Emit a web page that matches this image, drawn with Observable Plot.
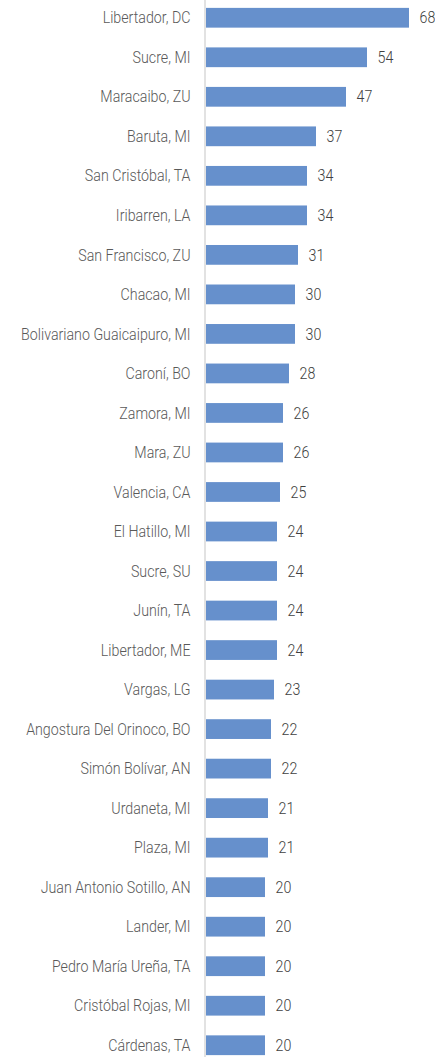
<!DOCTYPE html>
<html>
<head>
<meta charset="utf-8">
<script src="https://cdn.jsdelivr.net/npm/d3@7"></script>
<script src="https://cdn.jsdelivr.net/npm/@observablehq/plot@0.6"></script>
<style>
  html, body { margin: 0; padding: 0; background: #fff; }
  #chart svg { display: block; }
</style>
</head>
<body>
<div id="chart"></div>
<script>
const municipios = [
  "Libertador, DC", "Sucre, MI", "Maracaibo, ZU", "Baruta, MI", "San Cristóbal, TA",
  "Iribarren, LA", "San Francisco, ZU", "Chacao, MI", "Bolivariano Guaicaipuro, MI",
  "Caroní, BO", "Zamora, MI", "Mara, ZU", "Valencia, CA", "El Hatillo, MI", "Sucre, SU",
  "Junín, TA", "Libertador, ME", "Vargas, LG", "Angostura Del Orinoco, BO",
  "Simón Bolívar, AN", "Urdaneta, MI", "Plaza, MI", "Juan Antonio Sotillo, AN",
  "Lander, MI", "Pedro María Ureña, TA", "Cristóbal Rojas, MI", "Cárdenas, TA"
];
const valores = [68, 54, 47, 37, 34, 34, 31, 30, 30, 28, 26, 26, 25, 24, 24, 24, 24, 23, 22, 22, 21, 21, 20, 20, 20, 20, 20];

const data = municipios.map((m, i) => ({municipio: m, valor: valores[i]}));

const chart = Plot.plot({
  width: 435,
  height: 1057,
  marginLeft: 205,
  marginRight: 0,
  marginTop: -2,
  marginBottom: -8,
  style: {fontFamily: "Roboto", fontSize: "16px", fontWeight: 300, background: "#fff"},
  x: {domain: [0, 76.67], axis: null},
  y: {domain: municipios, paddingInner: 0.5, paddingOuter: 0.25, round: false, axis: null},
  marks: [
    Plot.barX(data, {x: "valor", y: "municipio", fill: "#6690cc", insetLeft: 1}),
    Plot.ruleX([0], {stroke: "#d9d9d9", strokeWidth: 1.5, dx: -0.5}),
    Plot.text(data, {x: 0, y: "municipio", text: "municipio", textAnchor: "end", dx: -15, fill: "#595959", fontSize: 16, fontWeight: 300}),
    Plot.text(data, {x: "valor", y: "municipio", text: d => String(d.valor), textAnchor: "start", dx: 10, fill: "#404040", fontSize: 16, fontWeight: 300})
  ]
});
// condense text horizontally to mimic a condensed face
chart.querySelectorAll("text").forEach(t => {
  const xs = t.getAttribute("x");
  const ys = t.getAttribute("y");
  let x = 0, y = 0;
  if (xs && !/em$/.test(xs)) { x = +xs || 0; t.removeAttribute("x"); }
  if (ys && !/em$/.test(ys)) { y = +ys || 0; t.removeAttribute("y"); }
  const tr = t.getAttribute("transform") || "";
  t.setAttribute("transform", `${tr} translate(${x},${y}) scale(0.89,1)`);
});
document.getElementById("chart").appendChild(chart);
</script>
</body>
</html>
